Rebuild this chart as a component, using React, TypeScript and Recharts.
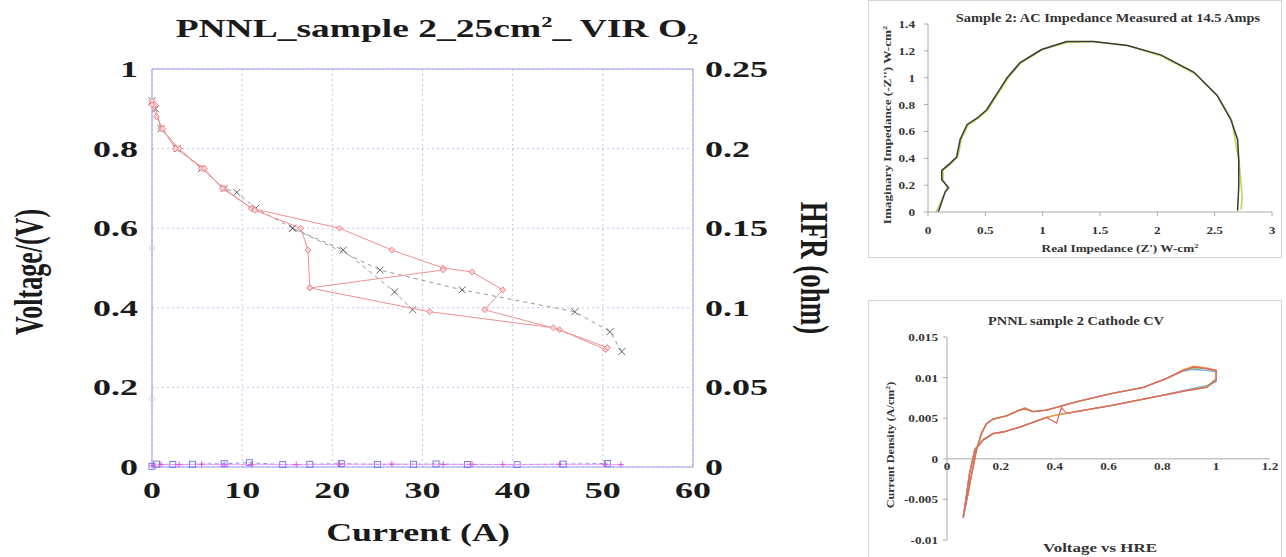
import React from "react";
import {
  ScatterChart,
  Scatter,
  LineChart,
  Line,
  XAxis,
  YAxis,
  CartesianGrid,
  ReferenceLine,
} from "recharts";

const SERIF = "'Liberation Serif', 'Times New Roman', serif";
const FRAME = "#9a9af2";
const GRID = "#c4c4f0";

// ---- main chart: PNNL_sample 2, polarisation + HFR ----
const currentTicks = [0, 10, 20, 30, 40, 50, 60];
const voltageTicks = [0, 0.2, 0.4, 0.6, 0.8, 1];
const hfrTicks = [0, 0.05, 0.1, 0.15, 0.2, 0.25];

// red diamonds, first sweep
const redUpCurrent = [0, 0.3, 1, 3, 5.5, 8, 11, 20.8, 26.6, 32.3, 35.5, 38.9, 36.9, 45.2, 50.3];
const redUpVoltage = [0.92, 0.91, 0.85, 0.8, 0.75, 0.7, 0.65, 0.6, 0.545, 0.5, 0.49, 0.445, 0.395, 0.345, 0.295];
// red diamonds, second sweep
const redDownCurrent = [0, 0.5, 1.2, 2.6, 5.8, 7.8, 11.4, 16.5, 17.3, 17.5, 30.8, 44.5, 50.5];
const redDownVoltage = [0.91, 0.88, 0.85, 0.8, 0.75, 0.7, 0.645, 0.6, 0.545, 0.45, 0.39, 0.35, 0.3];
const redBranchCurrent = [17.5, 32.3];
const redBranchVoltage = [0.45, 0.495];

// black crosses (dashed)
const blackCurrent = [0, 0.4, 1, 2.8, 5.5, 8, 9.4, 11.5, 15.6, 25.3, 34.4, 46.9, 50.8, 52.1];
const blackVoltage = [0.92, 0.9, 0.85, 0.8, 0.75, 0.7, 0.69, 0.65, 0.6, 0.495, 0.445, 0.39, 0.34, 0.29];
const blackBranchCurrent = [15.6, 21.2, 26.9, 28.9];
const blackBranchVoltage = [0.6, 0.545, 0.44, 0.395];

// faint open-circuit points sitting on the voltage axis
const ocvCurrent = [0, 0];
const ocvVoltage = [0.55, 0.17];

// HFR (right axis)
const hfrSquareCurrent = [0, 0.5, 2.3, 4.5, 8, 10.8, 14.5, 17.5, 21, 25, 29, 31.5, 35, 40.5, 45.6, 50.5];
const hfrSquareValue = [0.0004, 0.0018, 0.0016, 0.0017, 0.0021, 0.0027, 0.0015, 0.0017, 0.0021, 0.0016, 0.0017, 0.0019, 0.0016, 0.0015, 0.0018, 0.0022];
const hfrPlusCurrent = [0, 1, 3, 5.5, 8, 11, 16, 20.8, 26.6, 32.3, 35.5, 38.9, 45.2, 50.3, 52];
const hfrPlusValue = [0.0008, 0.0016, 0.0015, 0.0017, 0.0015, 0.0016, 0.0015, 0.0017, 0.0018, 0.0016, 0.0017, 0.0016, 0.0017, 0.0016, 0.0015];

// ---- AC impedance (Nyquist) ----
const acRealTicks = [0, 0.5, 1, 1.5, 2, 2.5, 3];
const acImagTicks = [0, 0.2, 0.4, 0.6, 0.8, 1, 1.2, 1.4];
const acDarkReal = [0.09, 0.15, 0.18, 0.12, 0.12, 0.19, 0.25, 0.28, 0.34, 0.43, 0.51, 0.6, 0.69, 0.8, 0.99, 1.21, 1.44, 1.74, 2.03, 2.32, 2.52, 2.64, 2.7, 2.71, 2.71, 2.7];
const acDarkImag = [0.0, 0.15, 0.18, 0.24, 0.31, 0.36, 0.41, 0.54, 0.65, 0.7, 0.76, 0.88, 1.0, 1.11, 1.21, 1.27, 1.27, 1.24, 1.17, 1.04, 0.87, 0.69, 0.54, 0.39, 0.19, 0.01];
const acGreenReal = [0.07, 0.1, 0.14, 0.17, 0.13, 0.13, 0.2, 0.26, 0.29, 0.35, 0.44, 0.52, 0.61, 0.7, 0.81, 1.0, 1.2, 1.44, 1.74, 2.04, 2.33, 2.53, 2.65, 2.71, 2.73, 2.74, 2.73];
const acGreenImag = [0.0, 0.05, 0.13, 0.18, 0.24, 0.31, 0.36, 0.41, 0.54, 0.65, 0.7, 0.76, 0.88, 1.0, 1.11, 1.21, 1.26, 1.27, 1.24, 1.16, 1.03, 0.86, 0.68, 0.39, 0.22, 0.1, 0.02];

// ---- cathode CV ----
const cvVoltTicks = [0, 0.2, 0.4, 0.6, 0.8, 1, 1.2];
const cvCurrentTicks = [-0.01, -0.005, 0, 0.005, 0.01, 0.015];
const cvVoltage = [0.06, 0.078, 0.097, 0.109, 0.128, 0.146, 0.171, 0.221, 0.27, 0.289, 0.32, 0.37, 0.48, 0.605, 0.73, 0.816, 0.878, 0.916, 0.965, 1.0, 1.0, 0.965, 0.89, 0.767, 0.618, 0.444, 0.425, 0.407, 0.37, 0.27, 0.208, 0.171, 0.134, 0.103, 0.084, 0.066, 0.06];
const cvRed = [-0.0072, -0.0043, -0.001, 0.001, 0.0031, 0.0043, 0.0049, 0.0053, 0.006, 0.0062, 0.0058, 0.006, 0.007, 0.008, 0.0088, 0.0099, 0.0109, 0.0113, 0.0111, 0.0109, 0.0097, 0.0088, 0.0084, 0.0076, 0.0066, 0.0056, 0.0063, 0.0044, 0.0051, 0.0039, 0.0033, 0.0031, 0.0023, 0.001, -0.0018, -0.006, -0.0072];
const cvGreen = [-0.0072, -0.0042, -0.0009, 0.0012, 0.0032, 0.0043, 0.0049, 0.0053, 0.006, 0.0063, 0.0058, 0.006, 0.007, 0.008, 0.0088, 0.0099, 0.0109, 0.0112, 0.0111, 0.0108, 0.0099, 0.0089, 0.0084, 0.0076, 0.0066, 0.0056, 0.0055, 0.0054, 0.0051, 0.0039, 0.0033, 0.0031, 0.0024, 0.0012, -0.0017, -0.006, -0.0072];
const cvBlue = [-0.0073, -0.0043, -0.001, 0.001, 0.0031, 0.0043, 0.0049, 0.0053, 0.006, 0.0062, 0.0058, 0.006, 0.007, 0.008, 0.0088, 0.0099, 0.0108, 0.011, 0.0109, 0.0107, 0.0095, 0.009, 0.0085, 0.0076, 0.0066, 0.0056, 0.0055, 0.0054, 0.0051, 0.0039, 0.0033, 0.0031, 0.0023, 0.001, -0.0018, -0.006, -0.0073];
const cvOrange = [-0.0071, -0.0043, -0.001, 0.001, 0.0031, 0.0043, 0.0049, 0.0053, 0.006, 0.0061, 0.0058, 0.006, 0.007, 0.008, 0.0088, 0.0099, 0.011, 0.0114, 0.0112, 0.0109, 0.0097, 0.0088, 0.0084, 0.0076, 0.0066, 0.0056, 0.0055, 0.0054, 0.0051, 0.0039, 0.0033, 0.0031, 0.0023, 0.001, -0.0018, -0.006, -0.0071];

const zip = (xs: number[], ys: number[]) => xs.map((x, i) => ({ x, y: ys[i] }));

const Diamond = (p: any) => (
  <path
    d={`M${p.cx},${p.cy - 3}L${p.cx + 3},${p.cy}L${p.cx},${p.cy + 3}L${p.cx - 3},${p.cy}Z`}
    fill="#f9d4d4"
    stroke="#e87070"
    strokeWidth={0.8}
  />
);
const Cross = (p: any) => (
  <path
    d={`M${p.cx - 3.5},${p.cy - 3.5}L${p.cx + 3.5},${p.cy + 3.5}M${p.cx - 3.5},${p.cy + 3.5}L${p.cx + 3.5},${p.cy - 3.5}`}
    stroke="#666"
    strokeWidth={1}
  />
);
const Square = (p: any) => (
  <rect x={p.cx - 3} y={p.cy - 3} width={6} height={6} fill="none" stroke="#7070f0" strokeWidth={0.9} />
);
const Plus = (p: any) => (
  <path d={`M${p.cx - 3},${p.cy}L${p.cx + 3},${p.cy}M${p.cx},${p.cy - 3}L${p.cx},${p.cy + 3}`} stroke="#e050e0" strokeWidth={1} />
);
const Ring = (p: any) => <circle cx={p.cx} cy={p.cy} r={2.5} fill="none" stroke="#c8c8c8" strokeWidth={0.8} />;

const wide = (x: number, y: number, sx: number) => `translate(${x},${y}) scale(${sx},1)`;

const MainXTick = (p: any) => (
  <text transform={wide(p.x, 498, 1.5)} textAnchor="middle" fontFamily={SERIF} fontWeight="bold" fontSize={24} fill="#1a1a1a">
    {p.payload.value}
  </text>
);
const MainLeftTick = (p: any) => (
  <text transform={wide(138, p.y + 8, 1.5)} textAnchor="end" fontFamily={SERIF} fontWeight="bold" fontSize={24} fill="#1a1a1a">
    {p.payload.value}
  </text>
);
const MainRightTick = (p: any) => (
  <text transform={wide(705, p.y + 8, 1.5)} textAnchor="start" fontFamily={SERIF} fontWeight="bold" fontSize={24} fill="#1a1a1a">
    {p.payload.value}
  </text>
);

const smallText = { fontFamily: SERIF, fontWeight: "bold" as const, fill: "#333" };

const AcXTick = (p: any) => (
  <text transform={wide(p.x, 234, 1.2)} textAnchor="middle" fontSize={11} {...smallText}>
    {p.payload.value}
  </text>
);
const AcYTick = (p: any) => (
  <text transform={wide(47, p.y + 4, 1.2)} textAnchor="end" fontSize={11} {...smallText}>
    {p.payload.value}
  </text>
);

const CV_ZERO_Y = 37 + 203 * 0.6;
const CvXTick = (p: any) => (
  <text transform={wide(p.x, CV_ZERO_Y + 11, 1.2)} textAnchor="middle" fontSize={11} {...smallText}>
    {p.payload.value}
  </text>
);
const CvYTick = (p: any) => (
  <text transform={wide(70, p.y + 4, 1.2)} textAnchor="end" fontSize={11} {...smallText}>
    {p.payload.value}
  </text>
);

function MainChart() {
  const redLine = { stroke: "#f19090", strokeWidth: 1 };
  const greyDash = { stroke: "#8a8a8a", strokeDasharray: "4 4", strokeWidth: 0.9 };
  return (
    <ScatterChart width={860} height={557} margin={{ top: 69, right: 67, bottom: 40, left: 72 }}>
      <CartesianGrid yAxisId="v" stroke={GRID} strokeDasharray="2 3" />
      <XAxis type="number" dataKey="x" domain={[0, 60]} ticks={currentTicks} interval={0} height={50} axisLine={{ stroke: FRAME }} tickLine={false} tick={MainXTick} />
      <YAxis yAxisId="v" type="number" dataKey="y" domain={[0, 1]} ticks={voltageTicks} interval={0} width={80} axisLine={{ stroke: FRAME }} tickLine={false} tick={MainLeftTick} />
      <YAxis yAxisId="h" orientation="right" type="number" dataKey="y" domain={[0, 0.25]} ticks={hfrTicks} interval={0} width={100} axisLine={{ stroke: FRAME }} tickLine={false} tick={MainRightTick} />
      <ReferenceLine yAxisId="v" y={1} stroke={FRAME} />
      <Scatter yAxisId="v" data={zip(ocvCurrent, ocvVoltage)} shape={Ring} isAnimationActive={false} />
      <Scatter yAxisId="h" data={zip(hfrSquareCurrent, hfrSquareValue)} line={{ stroke: "#8c8cf0", strokeDasharray: "4 3", strokeWidth: 1 }} shape={Square} isAnimationActive={false} />
      <Scatter yAxisId="h" data={zip(hfrPlusCurrent, hfrPlusValue)} line={{ stroke: "#f08cf0", strokeWidth: 0.8 }} shape={Plus} isAnimationActive={false} />
      <Scatter yAxisId="v" data={zip(blackCurrent, blackVoltage)} line={greyDash} shape={Cross} isAnimationActive={false} />
      <Scatter yAxisId="v" data={zip(blackBranchCurrent, blackBranchVoltage)} line={greyDash} shape={Cross} isAnimationActive={false} />
      <Scatter yAxisId="v" data={zip(redUpCurrent, redUpVoltage)} line={redLine} shape={Diamond} isAnimationActive={false} />
      <Scatter yAxisId="v" data={zip(redDownCurrent, redDownVoltage)} line={redLine} shape={Diamond} isAnimationActive={false} />
      <Scatter yAxisId="v" data={zip(redBranchCurrent, redBranchVoltage)} line={redLine} shape={Diamond} isAnimationActive={false} />
    </ScatterChart>
  );
}

function ImpedanceChart() {
  return (
    <LineChart width={414} height={258} margin={{ top: 24, right: 10, bottom: 0, left: 0 }}>
      <XAxis type="number" dataKey="x" domain={[0, 3]} ticks={acRealTicks} interval={0} height={46} axisLine={{ stroke: "#aaa" }} tickLine={{ stroke: "#aaa" }} tickSize={4} tick={AcXTick} />
      <YAxis type="number" dataKey="y" domain={[0, 1.4]} ticks={acImagTicks} interval={0} width={60} axisLine={{ stroke: "#aaa" }} tickLine={{ stroke: "#aaa" }} tickSize={4} tick={AcYTick} />
      <Line data={zip(acGreenReal, acGreenImag)} dataKey="y" stroke="#b9d84c" strokeWidth={1.6} dot={false} isAnimationActive={false} />
      <Line data={zip(acDarkReal, acDarkImag)} dataKey="y" stroke="#3c3c3c" strokeWidth={1.5} dot={false} isAnimationActive={false} />
    </LineChart>
  );
}

function CvChart() {
  const series = [
    { v: cvBlue, c: "#74a9dc" },
    { v: cvGreen, c: "#8cc152" },
    { v: cvOrange, c: "#f0a040" },
    { v: cvRed, c: "#e06666" },
  ];
  return (
    <LineChart width={414} height={257} margin={{ top: 37, right: 12, bottom: 0, left: 0 }}>
      <XAxis type="number" dataKey="x" domain={[0, 1.2]} ticks={cvVoltTicks} interval={0} height={17} axisLine={false} tickLine={false} tick={CvXTick} />
      <YAxis type="number" dataKey="y" domain={[-0.01, 0.015]} ticks={cvCurrentTicks} interval={0} width={79} axisLine={{ stroke: "#aaa" }} tickLine={{ stroke: "#aaa" }} tickSize={4} tick={CvYTick} />
      <ReferenceLine y={0} stroke="#aaa" />
      {series.map((s, i) => (
        <Line key={i} data={zip(cvVoltage, s.v)} dataKey="y" stroke={s.c} strokeWidth={1.3} dot={false} isAnimationActive={false} />
      ))}
    </LineChart>
  );
}

export default function App() {
  const big = { fontFamily: SERIF, fontWeight: "bold" as const, fill: "#1a1a1a" };
  return (
    <div style={{ position: "absolute", left: 0, top: 0, width: 1286, height: 557, background: "#fff", overflow: "hidden" }}>
      <div style={{ position: "absolute", left: 0, top: 0 }}>
        <MainChart />
      </div>
      <div style={{ position: "absolute", left: 868, top: 0, width: 414, height: 258, border: "1px solid #d4d4d4", boxSizing: "border-box" }} />
      <div style={{ position: "absolute", left: 868, top: 0 }}>
        <ImpedanceChart />
      </div>
      <div style={{ position: "absolute", left: 868, top: 300, width: 414, height: 262, border: "1px solid #d4d4d4", boxSizing: "border-box" }} />
      <div style={{ position: "absolute", left: 868, top: 300 }}>
        <CvChart />
      </div>
      <svg width={1286} height={557} style={{ position: "absolute", left: 0, top: 0, pointerEvents: "none" }}>
        <text transform="translate(437,37) scale(1.5,1)" textAnchor="middle" fontSize={25} {...big}>
          PNNL_sample 2_25cm<tspan dy={-10} fontSize={15}>2</tspan>
          <tspan dy={10}>_ VIR O</tspan>
          <tspan dy={7} fontSize={15}>2</tspan>
        </text>
        <text transform="translate(42,272) rotate(-90) scale(1,1.5)" textAnchor="middle" fontSize={26} {...big}>
          Voltage/(V)
        </text>
        <text transform="translate(801,268) rotate(90) scale(1,1.5)" textAnchor="middle" fontSize={27} {...big}>
          HFR (ohm)
        </text>
        <text transform="translate(418,541) scale(1.38,1)" textAnchor="middle" fontSize={26} {...big}>
          Current (A)
        </text>

        <text transform="translate(1108,22) scale(1.2,1)" textAnchor="middle" fontSize={12} {...smallText}>
          Sample 2:  AC Impedance Measured at 14.5 Amps
        </text>
        <text transform="translate(891,125) rotate(-90) scale(1.2,1)" textAnchor="middle" fontSize={11} {...smallText}>
          Imaginary Impedance (-Z'') W-cm<tspan dy={-4} fontSize={7}>2</tspan>
        </text>
        <text transform="translate(1120,252) scale(1.2,1)" textAnchor="middle" fontSize={11} {...smallText}>
          Real Impedance (Z') W-cm<tspan dy={-4} fontSize={7}>2</tspan>
        </text>

        <text transform="translate(1076,325) scale(1.2,1)" textAnchor="middle" fontSize={12} {...smallText}>
          PNNL sample 2 Cathode CV
        </text>
        <text transform="translate(894,445) rotate(-90) scale(1.1,1)" textAnchor="middle" fontSize={11} {...smallText}>
          Current Density (A/cm<tspan dy={-4} fontSize={7}>2</tspan>
          <tspan dy={4}>)</tspan>
        </text>
        <text transform="translate(1100,552) scale(1.3,1)" textAnchor="middle" fontSize={13} {...smallText}>
          Voltage vs HRE
        </text>
      </svg>
    </div>
  );
}
